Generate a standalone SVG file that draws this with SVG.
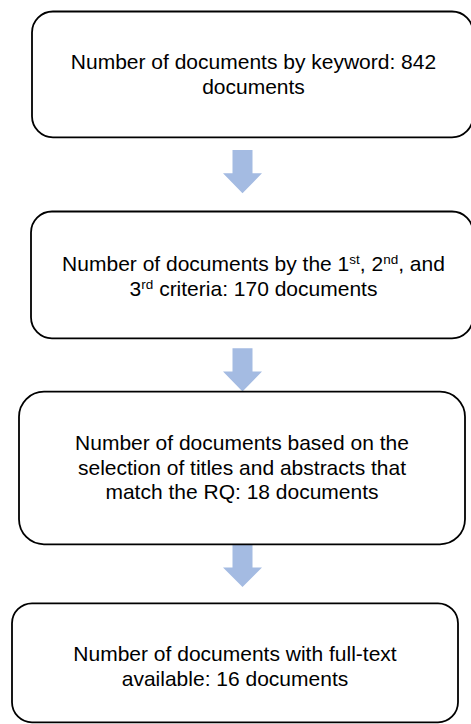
<svg xmlns="http://www.w3.org/2000/svg" width="471" height="724" viewBox="0 0 471 724">
<style>
.box{fill:#fff;stroke:#000;stroke-width:1.8}
.t{font-family:"Liberation Sans",Arial,sans-serif;font-size:21px;fill:#000;text-anchor:middle}
.sup{font-size:13.5px}
.arr{fill:#A4BBE2}
</style>
<rect width="471" height="724" fill="#fff"/>
<g id="connectors">
<path class="arr" d="M232.5 150 H252.5 V173.3 H262 L242.5 193.3 L223 173.3 H232.5 Z"/>
<path class="arr" d="M232.5 348.3 H252.5 V371.6 H262 L242.5 391.6 L223 371.6 H232.5 Z"/>
<path class="arr" d="M232.5 544 H252.5 V567.6 H262 L242.5 587 L223 567.6 H232.5 Z"/>
</g>
<g id="node1">
<rect class="box" x="32" y="11.5" width="441" height="125.8" rx="21" ry="21"/>
<text class="t" x="253.5" y="68.8">Number of documents by keyword: 842</text>
<text class="t" x="253.5" y="93.8">documents</text>
</g>
<g id="node2">
<rect class="box" x="31" y="211.5" width="442" height="126.8" rx="21" ry="21"/>
<text class="t" x="253.5" y="270.5">Number of documents by the 1<tspan class="sup" dy="-7">st</tspan><tspan dy="7">, 2</tspan><tspan class="sup" dy="-7">nd</tspan><tspan dy="7">, and</tspan></text>
<text class="t" x="253.5" y="295.5">3<tspan class="sup" dy="-7">rd</tspan><tspan dy="7"> criteria: 170 documents</tspan></text>
</g>
<g id="node3">
<rect class="box" x="19" y="391.7" width="446" height="152.6" rx="25" ry="25"/>
<text class="t" x="242" y="450.2">Number of documents based on the</text>
<text class="t" x="242" y="474.7">selection of titles and abstracts that</text>
<text class="t" x="242" y="499.2">match the RQ: 18 documents</text>
</g>
<g id="node4">
<rect class="box" x="12" y="603.3" width="446" height="119" rx="20" ry="20"/>
<text class="t" x="235" y="661.2">Number of documents with full-text</text>
<text class="t" x="235" y="685.7">available: 16 documents</text>
</g>
</svg>
